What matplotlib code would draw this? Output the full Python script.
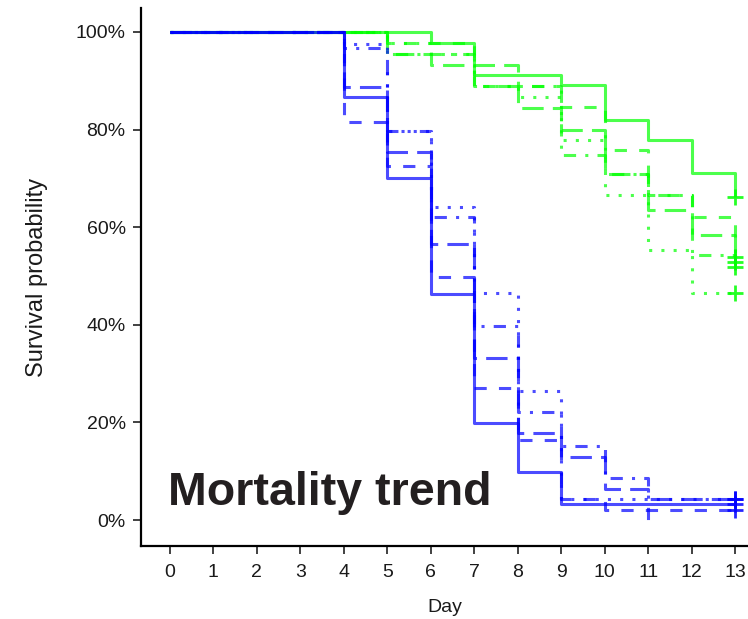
import matplotlib
matplotlib.use("Agg")
import matplotlib.pyplot as plt
import numpy as np

plt.rcParams['font.family'] = ['Liberation Sans', 'DejaVu Sans']

days = list(range(14))
y_ticks = [0, 20, 40, 60, 80, 100]
y_tick_labels = ["0%", "20%", "40%", "60%", "80%", "100%"]

# Blue group (survival %, value in interval [day, day+1); last = value after day 13)
blue_solid   = [100, 100, 100, 100, 86.7, 70.0, 46.3, 19.9, 9.8, 3.3, 3.3, 3.3, 3.3, 3.3]
blue_dotted  = [100, 100, 100, 100, 97.6, 79.7, 64.2, 46.5, 26.4, 4.4, 4.4, 4.4, 4.4, 4.4]
blue_dotdash = [100, 100, 100, 100, 96.7, 79.7, 62.1, 39.8, 22.1, 15.2, 8.7, 0.0, np.nan, np.nan]
blue_long    = [100, 100, 100, 100, 88.7, 75.4, 56.6, 33.2, 17.8, 13.0, 6.3, 4.3, 4.3, 4.3]
blue_dashed  = [100, 100, 100, 100, 81.6, 72.5, 49.8, 27.0, 16.4, 4.3, 2.0, 2.0, 2.0, 2.0]

# Green group
green_solid   = [100, 100, 100, 100, 100, 100, 97.8, 91.2, 91.2, 89.1, 82.0, 77.9, 71.1, 66.2]
green_dashed  = [100, 100, 100, 100, 100, 97.7, 97.8, 88.9, 88.9, 84.6, 75.8, 66.6, 62.1, 53.9]
green_dotted  = [100, 100, 100, 100, 100, 97.7, 95.5, 88.9, 86.7, 77.9, 66.6, 55.3, 46.5, 46.5]
green_long    = [100, 100, 100, 100, 100, 95.5, 93.2, 93.2, 84.4, 79.9, 70.9, 63.5, 58.4, 52.9]
green_dotdash = [100, 100, 100, 100, 100, 95.5, 95.5, 88.9, 88.9, 74.8, 70.9, 66.6, 54.3, 51.8]

styles = {
    'solid': '-',
    'dashed': (0, (4, 4)),
    'dotted': (0, (1, 3)),
    'dotdash': (0, (1, 3, 4, 3)),
    'long': (0, (7, 3)),
}

fig = plt.figure(figsize=(7.48, 6.19), dpi=100)
ax = fig.add_axes([141/748, 73/619, 607/748, 538/619])

lw = 2.2
def draw(vals, color, style):
    v = np.array(vals, dtype=float)
    d = np.array(days, dtype=float)
    m = ~np.isnan(v)
    d, v = d[m], v[m]
    ax.step(d, v, where='post', color=color, alpha=0.7, lw=lw,
            linestyle=styles[style], solid_capstyle='butt', dash_capstyle='butt')
    if v[-1] > 0 and d[-1] == 13:
        ax.plot([d[-1]], [v[-1]], marker='+', color=color, markersize=11,
                markeredgewidth=2, alpha=0.85, linestyle='none')

green = '#00ff00'
blue = '#0000ff'
draw(green_solid, green, 'solid')
draw(green_dashed, green, 'dashed')
draw(green_dotted, green, 'dotted')
draw(green_long, green, 'long')
draw(green_dotdash, green, 'dotdash')
draw(blue_solid, blue, 'solid')
draw(blue_dotted, blue, 'dotted')
draw(blue_dotdash, blue, 'dotdash')
draw(blue_long, blue, 'long')
draw(blue_dashed, blue, 'dashed')

ax.set_xlim(-0.66, 13.29)
ax.set_ylim(-5.3, 104.9)
ax.set_xticks(days)
ax.set_xticklabels([str(d) for d in days])
ax.set_yticks(y_ticks)
ax.set_yticklabels(y_tick_labels)
for s in ['top', 'right']:
    ax.spines[s].set_visible(False)
for s in ['left', 'bottom']:
    ax.spines[s].set_linewidth(1.6)
    ax.spines[s].set_color('black')
ax.tick_params(axis='both', direction='out', length=6, width=1.3, color='#333333',
               labelsize=14, labelcolor='#1a1a1a')
ax.tick_params(axis='y', pad=5)
ax.tick_params(axis='x', pad=7)
ax.set_xlabel('Day', fontsize=14, color='#1a1a1a', labelpad=13)
ax.set_ylabel('Survival probability', fontsize=17, color='#1a1a1a', labelpad=20)

ax.text(-0.03, 3.0, 'Mortality trend', fontsize=33.5, fontweight='bold',
        color='#231f20', ha='left', va='baseline')

fig.savefig('out.png', dpi=100)
